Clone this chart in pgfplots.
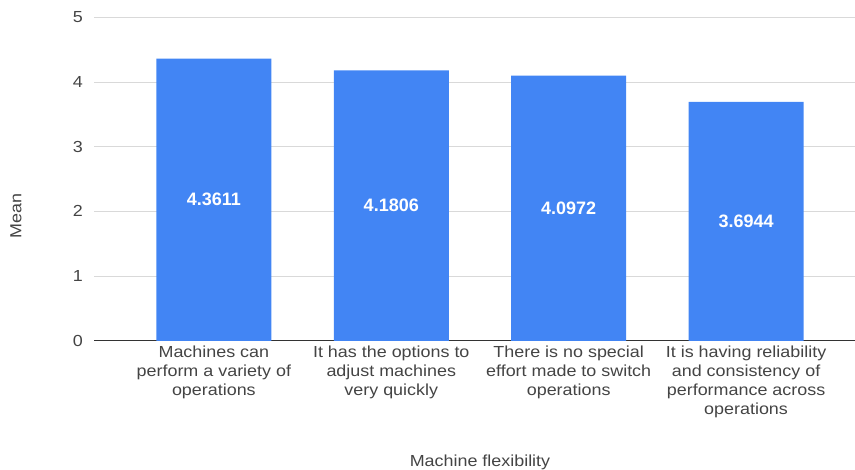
\documentclass[border=0pt]{standalone}
\usepackage{fontspec}
\setmainfont{Liberation Sans}[FakeStretch=1.12]
\newfontfamily\valfont{Liberation Sans}
\usepackage{pgfplots}
\pgfplotsset{compat=1.18}
\definecolor{barblue}{HTML}{4285F4}
\definecolor{gridgray}{HTML}{D9D9D9}
\definecolor{axisgray}{HTML}{333333}
\definecolor{txtgray}{HTML}{444444}
\begin{document}
\begin{tikzpicture}
\useasboundingbox (0,0) rectangle (855pt,470pt);
\begin{axis}[
  at={(94.3pt,129.2pt)}, anchor=south west,
  scale only axis, width=760.7pt, height=323.5pt,
  xmin=-0.674, xmax=3.614, ymin=0, ymax=5,
  ytick={0,1,2,3,4,5},
  xtick={0,1,2,3},
  xticklabels={{Machines can\\perform a variety of\\operations},
               {It has the options to\\adjust machines\\very quickly},
               {There is no special\\effort made to switch\\operations},
               {It is having reliability\\and consistency of\\performance across\\operations}},
  axis x line=bottom, axis y line=left,
  x axis line style={draw=axisgray, line width=0.8pt, -},
  y axis line style={draw=none},
  major tick length=0pt,
  ymajorgrids, grid style={draw=gridgray, line width=0.8pt},
  /pgf/number format/assume math mode=true,
  yticklabel style={font=\fontsize{16}{18}\selectfont, text=txtgray, xshift=-8pt},
  xticklabel style={font=\fontsize{16}{19}\selectfont, text=txtgray, align=center, anchor=north, yshift=-2pt},
  xlabel={Machine flexibility},
  ylabel={Mean},
  xlabel style={font=\fontsize{16}{19}\selectfont, text=txtgray, at={(axis description cs:0.507,0)}, anchor=center, yshift=-122pt},
  ylabel style={font=\fontsize{16}{19}\selectfont, text=txtgray, at={(axis description cs:-0.103,0.385)}, anchor=center},
  ybar, bar width=115pt,
  nodes near coords={\pgfmathprintnumber[fixed,precision=4]{\pgfplotspointmeta}},
  visualization depends on={rawy/2 \as \halfy},
  nodes near coords style={font=\valfont\fontsize{18}{20}\selectfont\bfseries, text=white, anchor=center, shift={(axis direction cs:0,-\halfy)}},
]
\addplot[fill=barblue, draw=none] coordinates {
  (0,4.3611)
  (1,4.1806)
  (2,4.0972)
  (3,3.6944)
};
\end{axis}
\end{tikzpicture}
\end{document}
